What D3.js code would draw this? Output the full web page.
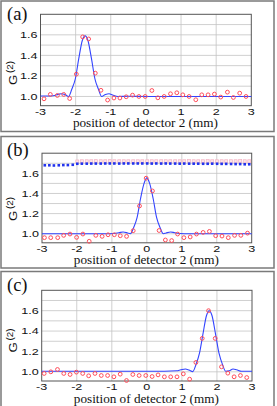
<!DOCTYPE html>
<html>
<head>
<meta charset="utf-8">
<script src="https://cdn.jsdelivr.net/npm/d3@7"></script>
<style>
  body { margin: 0; background: #fff; }
  svg { display: block; }
</style>
</head>
<body>
<svg width="277" height="406"></svg>
<script>
// tick labels and texts
let xTicks = [-3, -2, -1, 0, 1, 2, 3];
let yTicks = [1.0, 1.2, 1.4, 1.6];
let yGrid = [1.0, 1.1, 1.2, 1.3, 1.4, 1.5, 1.6, 1.7];
let panelNames = ["(a)", "(b)", "(c)"];
let xTitle = "position of detector 2 (mm)";

// panel (a) measured points and fitted curve
let aPtX = [-2.90, -2.72, -2.52, -2.34, -2.17, -1.98, -1.80, -1.63, -1.44, -1.28, -1.09, -0.91, -0.74, -0.56, -0.38, -0.20, -0.02,
            0.17, 0.34, 0.52, 0.70, 0.88, 1.05, 1.23, 1.42, 1.59, 1.77, 1.95, 2.13, 2.32, 2.49, 2.67, 2.85];
let aPtY = [0.977, 1.02, 1.01, 1.02, 0.98, 1.217, 1.58, 1.56, 1.227, 1.06, 0.965, 0.985, 0.985, 0.997, 1.013, 1.0, 1.0,
            1.058, 0.987, 1.0, 1.026, 1.036, 1.016, 1.0, 0.968, 1.016, 1.016, 1.023, 0.994, 1.042, 0.99, 1.032, 1.0];
let aFitX = [-3.0, -2.8, -2.6, -2.5, -2.41, -2.3, -2.2, -2.11, -2.01, -1.91, -1.81, -1.73, -1.65, -1.55, -1.45, -1.35, -1.26,
             -1.15, -1.05, -0.95, -0.8, -0.5, 0.0, 3.0];
let aFitY = [1.005, 1.005, 1.01, 1.02, 1.027, 1.018, 1.0, 1.07, 1.17, 1.37, 1.545, 1.59, 1.545, 1.37, 1.17, 1.07, 1.0,
             1.02, 1.027, 1.015, 1.0, 1.002, 1.0, 1.0];

// panel (b)
let bPtX = [-2.93, -2.75, -2.55, -2.38, -2.20, -2.01, -1.83, -1.65, -1.46, -1.28, -1.11, -0.93, -0.76, -0.58, -0.39, -0.21, -0.02,
            0.16, 0.35, 0.53, 0.71, 0.88, 1.06, 1.24, 1.42, 1.61, 1.79, 1.97, 2.15, 2.33, 2.51, 2.69, 2.88];
let bPtY = [0.961, 0.961, 0.961, 0.984, 0.997, 0.964, 0.997, 0.925, 0.984, 0.974, 0.99, 0.99, 0.98, 0.974, 1.03, 1.276, 1.552,
            1.425, 1.032, 0.938, 0.932, 0.997, 0.961, 0.968, 0.997, 1.013, 1.023, 0.98, 0.977, 0.961, 0.984, 0.984, 1.006];
let bFitX = [-3.0, -1.2, -0.95, -0.8, -0.68, -0.55, -0.47, -0.38, -0.28, -0.18, -0.08, 0.0, 0.08, 0.18, 0.28, 0.38, 0.47,
             0.55, 0.68, 0.8, 0.95, 1.2, 3.0];
let bFitY = [1.0, 1.0, 1.003, 1.01, 1.018, 1.008, 1.0, 1.06, 1.16, 1.35, 1.50, 1.555, 1.50, 1.35, 1.16, 1.06, 1.0,
             1.008, 1.018, 1.01, 1.003, 1.0, 1.0];
let bRefX = [-2.92, -2.79, -2.66, -2.52, -2.39, -2.26, -2.12, -1.99, -1.86, -1.72, -1.59, -1.46, -1.32, -1.19, -1.06,
             -0.93, -0.79, -0.66, -0.53, -0.39, -0.26, -0.13, 0.01, 0.14, 0.27, 0.41, 0.54, 0.67, 0.81, 0.94,
             1.07, 1.21, 1.34, 1.47, 1.61, 1.74, 1.87, 2.01, 2.14, 2.27, 2.41, 2.54, 2.67, 2.80, 2.93];
let bRefY = [1.68, 1.68, 1.678, 1.68, 1.682, 1.682, 1.685, 1.695, 1.696, 1.696, 1.697, 1.697, 1.697, 1.698, 1.698,
             1.698, 1.697, 1.698, 1.698, 1.698, 1.698, 1.698, 1.698, 1.697, 1.698, 1.697, 1.698, 1.697, 1.697, 1.696,
             1.697, 1.696, 1.696, 1.696, 1.695, 1.695, 1.696, 1.695, 1.694, 1.694, 1.693, 1.692, 1.692, 1.69, 1.69];
let bPinkX = [-1.99, -1.86, -1.72, -1.59, -1.46, -1.32, -1.19, -1.06, -0.93, -0.79, -0.66, -0.53, -0.39, -0.26, -0.13,
              0.01, 0.14, 0.27, 0.41, 0.54, 0.67, 0.81, 0.94, 1.07, 1.21, 1.34, 1.47, 1.61, 1.74, 1.87, 2.01, 2.14,
              2.27, 2.41, 2.54, 2.67, 2.80, 2.93];
let bPinkY = [1.718, 1.72, 1.72, 1.72, 1.721, 1.72, 1.72, 1.721, 1.72, 1.72, 1.72, 1.72, 1.72, 1.72, 1.72,
              1.72, 1.72, 1.72, 1.72, 1.72, 1.72, 1.72, 1.72, 1.72, 1.722, 1.72, 1.72, 1.72, 1.722, 1.72, 1.72, 1.72,
              1.72, 1.72, 1.72, 1.722, 1.72, 1.72];

// panel (c)
let cPtX = [-2.93, -2.74, -2.55, -2.37, -2.19, -2.01, -1.83, -1.66, -1.48, -1.30, -1.12, -0.94, -0.76, -0.58, -0.40, -0.22, -0.03,
            0.15, 0.32, 0.50, 0.68, 0.86, 1.04, 1.22, 1.40, 1.58, 1.76, 1.95, 2.13, 2.31, 2.49, 2.67, 2.85];
let cPtY = [0.984, 1.0, 1.023, 0.984, 0.974, 0.997, 0.984, 0.961, 0.984, 0.964, 0.964, 0.951, 0.977, 0.915, 0.974, 0.964, 0.964,
            0.954, 0.97, 0.951, 0.951, 0.951, 0.98, 0.928, 1.092, 1.328, 1.60, 1.328, 1.049, 0.987, 0.951, 0.964, 0.944];
let cFitX = [-3.0, -1.0, 0.0, 0.5, 0.85, 0.97, 1.1, 1.2, 1.31, 1.4, 1.5, 1.6, 1.7, 1.78, 1.86, 1.96, 2.06, 2.16, 2.25,
             2.35, 2.46, 2.56, 2.7, 3.0];
let cFitY = [1.005, 1.005, 1.006, 1.006, 1.01, 1.02, 1.028, 1.018, 1.002, 1.07, 1.18, 1.37, 1.55, 1.60, 1.55, 1.37, 1.18, 1.07, 1.005,
             1.01, 1.028, 1.02, 1.005, 1.005];

let svg = d3.select("svg");

// layout of the three panels (pixels)
let panels = [
    {name: panelNames[0], box: [1, 1, 273, 130.5], x: [40.5, 251.3], y: [105.7, 14.3], gBottom: 85,
     ptX: aPtX, ptY: aPtY, fitX: aFitX, fitY: aFitY},
    {name: panelNames[1], box: [1, 136.5, 273, 131.5], x: [42, 251.7], y: [242.8, 153.2], gBottom: 221,
     ptX: bPtX, ptY: bPtY, fitX: bFitX, fitY: bFitY, ref: true},
    {name: panelNames[2], box: [1, 271.5, 273, 136], x: [41.7, 252], y: [381, 290.3], gBottom: 352.5,
     ptX: cPtX, ptY: cPtY, fitX: cFitX, fitY: cFitY}
];

panels.forEach(function (p) {
    let g = svg.append("g");
    let xScale = d3.scaleLinear().domain([-3, 3]).range(p.x);
    let yScale = d3.scaleLinear().domain([0.91, 1.8]).range(p.y);

    g.append("rect")
        .attr("x", p.box[0]).attr("y", p.box[1])
        .attr("width", p.box[2]).attr("height", p.box[3])
        .attr("fill", "none").attr("stroke", "#7a7a7a").attr("stroke-width", 1.5);

    // grid
    g.selectAll(".gy").data(yGrid).enter().append("line")
        .attr("x1", p.x[0]).attr("x2", p.x[1])
        .attr("y1", d => yScale(d)).attr("y2", d => yScale(d))
        .attr("stroke", "#c4c4c4").attr("stroke-width", 0.8);
    g.selectAll(".gx").data(xTicks.slice(1, -1)).enter().append("line")
        .attr("x1", d => xScale(d)).attr("x2", d => xScale(d))
        .attr("y1", p.y[0]).attr("y2", p.y[1])
        .attr("stroke", "#c4c4c4").attr("stroke-width", 0.8);

    g.append("rect")
        .attr("x", p.x[0]).attr("y", p.y[1])
        .attr("width", p.x[1] - p.x[0]).attr("height", p.y[0] - p.y[1])
        .attr("fill", "none").attr("stroke", "#555").attr("stroke-width", 1);

    // tick labels (wide sans font)
    g.selectAll(".tx").data(xTicks).enter().append("text")
        .attr("transform", d => "translate(" + xScale(d) + "," + (p.y[0] + 9.3) + ") scale(1.4,1)")
        .attr("text-anchor", "middle")
        .attr("font-family", "Liberation Sans, Arial, sans-serif")
        .attr("font-size", 9).attr("fill", "#111")
        .text(d => d);
    g.selectAll(".ty").data(yTicks).enter().append("text")
        .attr("transform", d => "translate(" + (p.x[0] - 3) + "," + (yScale(d) + 3.2) + ") scale(1.4,1)")
        .attr("text-anchor", "end")
        .attr("font-family", "Liberation Sans, Arial, sans-serif")
        .attr("font-size", 9).attr("fill", "#111")
        .text(d => d.toFixed(1));

    // titles
    g.append("text")
        .attr("x", (p.x[0] + p.x[1]) / 2 - 0.5).attr("y", p.y[0] + 21.5)
        .attr("text-anchor", "middle")
        .attr("font-family", "Liberation Serif, Times New Roman, serif")
        .attr("font-size", 13.2).attr("fill", "#111")
        .text(xTitle);

    let yt = g.append("text")
        .attr("transform", "translate(17," + p.gBottom + ") rotate(-90) scale(1.15,1)")
        .attr("font-family", "Liberation Sans, Arial, sans-serif")
        .attr("font-size", 11.5).attr("fill", "#111");
    yt.append("tspan").text("G");
    yt.append("tspan").attr("dx", 1.5).attr("dy", -4.5).attr("font-size", 8.5).text("(2)");

    g.append("text")
        .attr("x", p.box[0] + 6).attr("y", p.box[1] + 19)
        .attr("font-family", "Liberation Serif, Times New Roman, serif")
        .attr("font-size", 18.5).attr("fill", "#111")
        .text(p.name);

    // reference trace near the top of panel (b)
    if (p.ref) {
        g.selectAll(".pk").data(bPinkX).enter().append("rect")
            .attr("x", (d, i) => xScale(d) - 1.5)
            .attr("y", (d, i) => yScale(bPinkY[i]) - 1.5)
            .attr("width", 3).attr("height", 3)
            .attr("fill", "#fbe4ea").attr("stroke", "#f3b3c3").attr("stroke-width", 0.7);
        g.selectAll(".bs").data(bRefX).enter().append("rect")
            .attr("x", (d, i) => xScale(d) - 1.3)
            .attr("y", (d, i) => yScale(bRefY[i]) - 1.3)
            .attr("width", 2.6).attr("height", 2.6)
            .attr("fill", "#2233ee");
    }

    // fitted curve
    let line = d3.line()
        .x(d => xScale(d[0]))
        .y(d => yScale(d[1]))
        .curve(d3.curveMonotoneX);
    g.append("path")
        .attr("d", line(d3.zip(p.fitX, p.fitY)))
        .attr("fill", "none").attr("stroke", "#3344ff").attr("stroke-width", 1.1);

    // measured points
    g.selectAll(".pt").data(d3.zip(p.ptX, p.ptY)).enter().append("circle")
        .attr("cx", d => xScale(d[0]))
        .attr("cy", d => yScale(d[1]))
        .attr("r", 1.9)
        .attr("fill", "none").attr("stroke", "#ff4d5a").attr("stroke-width", 1);
});
</script>
</body>
</html>
